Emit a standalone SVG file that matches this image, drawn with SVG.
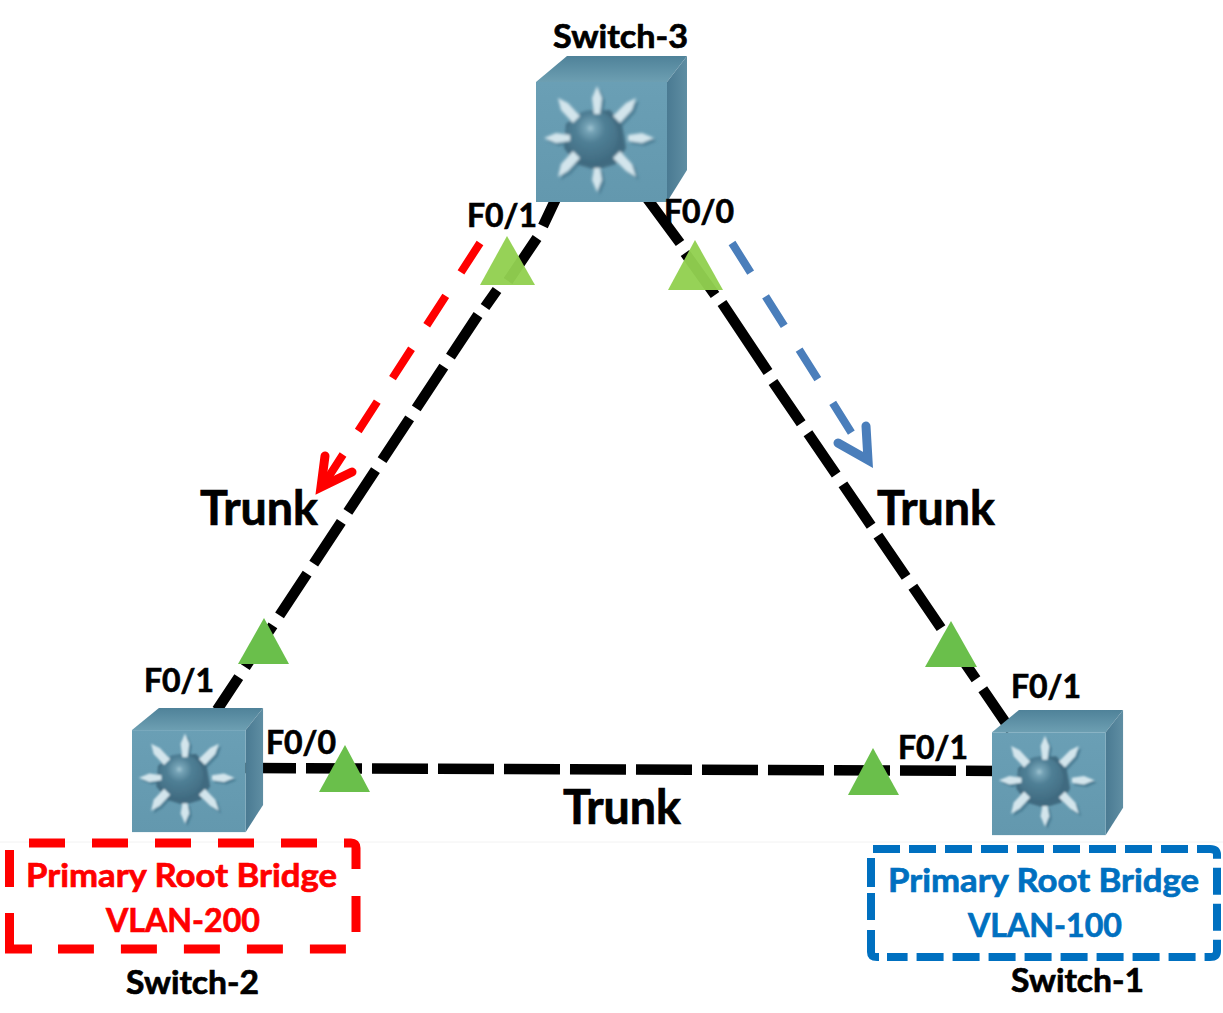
<svg xmlns="http://www.w3.org/2000/svg" width="1223" height="1013" viewBox="0 0 1223 1013">
<style>
text{font-family:Lato,"Open Sans","Liberation Sans",sans-serif;font-weight:700;fill:#000;stroke:#000;stroke-width:.7}
.port{font-size:33px}
.name{font-size:33px}
.trunk{font-size:47px}
text.red{fill:#f00;stroke:#f00;font-size:33px}
text.blue{fill:#0070c0;stroke:#0070c0;font-size:33px}
.wire{fill:none;stroke:#000;stroke-width:10.5}
.tri1{fill:#92d050;fill-opacity:.96}
.tri2{fill:#6abf4b}
</style>
<defs>
<linearGradient id="frontG" x1="0" y1="0" x2="0" y2="1"><stop offset="0" stop-color="#6a9fb5"/><stop offset="1" stop-color="#6398ae"/></linearGradient>
<linearGradient id="topG" x1="0" y1="0" x2="0" y2="1"><stop offset="0" stop-color="#4f8299"/><stop offset="1" stop-color="#6d9fb2"/></linearGradient>
<linearGradient id="sideG" x1="0" y1="0" x2="1" y2="0"><stop offset="0" stop-color="#4a7a92"/><stop offset="1" stop-color="#5f8ea3"/></linearGradient>
<radialGradient id="hubG" cx="0.47" cy="0.35" r="0.7"><stop offset="0" stop-color="#a5c8d5"/><stop offset=".12" stop-color="#75a3b6"/><stop offset=".4" stop-color="#4f7f95"/><stop offset="1" stop-color="#3f6a80"/></radialGradient>
<filter id="soft" x="-20%" y="-20%" width="140%" height="140%"><feGaussianBlur stdDeviation="1.4"/></filter>
<g id="arrows">
<polygon points="61,30 66,42 64,58 58,58 56,42"/>
<polygon points="61,136 56,124 58,112 64,112 66,124"/>
<polygon points="8,82 20,77 34,79 34,85 20,87"/>
<polygon points="118,82 106,77 92,79 92,85 106,87"/>
<polygon points="22,42 32,47 44,60 37,67 25,54"/>
<polygon points="100,42 96,54 84,67 77,60 90,47"/>
<polygon points="22,121 25,108 37,95 44,102 32,115"/>
<polygon points="100,121 90,115 77,102 84,95 96,108"/>
</g>
<g id="sw">
<polygon points="0,26 31,0 151,0 131,26" fill="url(#topG)"/>
<polygon points="151,0 151,114 131,146 131,26" fill="url(#sideG)"/>
<rect x="0" y="26" width="131" height="120" fill="url(#frontG)"/>
<g filter="url(#soft)">
<use href="#arrows" fill="#4d8097" transform="translate(3,3)"/>
<polygon points="46,56 74,54 86,68 90,92 80,108 60,114 40,108 28,92 30,68" fill="#3f6a80"/>
<circle cx="56" cy="80" r="26" fill="url(#hubG)"/>
<use href="#arrows" fill="#d3e5ec"/>
</g>
</g>
</defs>
<rect width="1223" height="1013" fill="#fff"/>
<line x1="0" y1="842" x2="1223" y2="842" stroke="#f2f2f2" stroke-width="1"/>
<g id="connectors">
<path class="wire" d="M560 190L543 226M537 238L508 281M497 290L485 307"/>
<path class="wire" stroke-dasharray="50 12" d="M478 315L217 710"/>
<path class="wire" d="M646 197L680 243M685 253L715 295M722 303L768 372"/>
<path class="wire" stroke-dasharray="50 12" d="M773 382L1012 732"/>
<path class="wire" stroke-dasharray="56 10" d="M240 768L1000 771"/>
<path fill="none" stroke="#f00" stroke-width="8" stroke-dasharray="35 28" d="M480 243L322 487"/>
<path fill="none" stroke="#f00" stroke-width="9" stroke-linecap="round" d="M325 456L321 487L352 472"/>
<polygon points="318,493 321,478 331,484" fill="#f00"/>
<path fill="none" stroke="#4a7ebb" stroke-width="8" stroke-dasharray="35 28" d="M732 243L868 459"/>
<path fill="none" stroke="#4a7ebb" stroke-width="9" stroke-linecap="round" d="M866 426L868 460L838 443"/>
<polygon points="871,465 860,458 870,450" fill="#4a7ebb"/>
</g>
<g id="markers">
<polygon class="tri1" points="507,236 535,285 480,285"/>
<polygon class="tri1" points="695,240 723,290 668,290"/>
<polygon class="tri2" points="264,618 289,664 238,664"/>
<polygon class="tri2" points="951,621 977,667 925,667"/>
<polygon class="tri2" points="345,745 370,792 319,792"/>
<polygon class="tri2" points="873,748 899,795 848,795"/>
</g>
<g id="switch-3">
<use href="#sw" transform="translate(536,56)"/>
<text class="name" x="553" y="48" textLength="135" lengthAdjust="spacingAndGlyphs">Switch-3</text>
</g>
<g id="switch-2">
<use href="#sw" transform="translate(132,708) scale(.868,.85)"/>
<text class="name" x="126" y="994" textLength="133" lengthAdjust="spacingAndGlyphs">Switch-2</text>
</g>
<g id="switch-1">
<use href="#sw" transform="translate(992,710) scale(.868,.857)"/>
<text class="name" x="1011" y="992" textLength="133" lengthAdjust="spacingAndGlyphs">Switch-1</text>
</g>
<g id="port-labels">
<text class="port" x="467" y="227" textLength="70" lengthAdjust="spacingAndGlyphs">F0/1</text>
<text class="port" x="664" y="223" textLength="70" lengthAdjust="spacingAndGlyphs">F0/0</text>
<text class="port" x="144" y="692" textLength="70" lengthAdjust="spacingAndGlyphs">F0/1</text>
<text class="port" x="266" y="754" textLength="70" lengthAdjust="spacingAndGlyphs">F0/0</text>
<text class="port" x="1011" y="698" textLength="70" lengthAdjust="spacingAndGlyphs">F0/1</text>
<text class="port" x="898" y="759" textLength="70" lengthAdjust="spacingAndGlyphs">F0/1</text>
</g>
<g id="trunk-labels">
<text class="trunk" x="200" y="525" textLength="118" lengthAdjust="spacingAndGlyphs">Trunk</text>
<text class="trunk" x="877" y="525" textLength="118" lengthAdjust="spacingAndGlyphs">Trunk</text>
<text class="trunk" x="563" y="824" textLength="118" lengthAdjust="spacingAndGlyphs">Trunk</text>
</g>
<g id="root-bridge-200">
<path fill="none" stroke="#f00" stroke-width="9" stroke-dasharray="36 27" d="M29 843H351Q356 843 356 848V949H58"/>
<path fill="none" stroke="#f00" stroke-width="9" d="M32 949H9.5V913M9.5 887V850"/>
<text class="red" x="26" y="887" textLength="311" lengthAdjust="spacingAndGlyphs">Primary Root Bridge</text>
<text class="red" x="106" y="932" textLength="154" lengthAdjust="spacingAndGlyphs">VLAN-200</text>
</g>
<g id="root-bridge-100">
<path fill="none" stroke="#0070c0" stroke-width="8" stroke-dasharray="27 9" d="M873 849H1210Q1217 849 1217 855V951Q1217 957 1210 957H887"/>
<path fill="none" stroke="#0070c0" stroke-width="8" d="M871 858V887M871 893V920M871 930V952Q871 957 877 957H879"/>
<text class="blue" x="888" y="892" textLength="311" lengthAdjust="spacingAndGlyphs">Primary Root Bridge</text>
<text class="blue" x="968" y="937" textLength="154" lengthAdjust="spacingAndGlyphs">VLAN-100</text>
</g>
</svg>
